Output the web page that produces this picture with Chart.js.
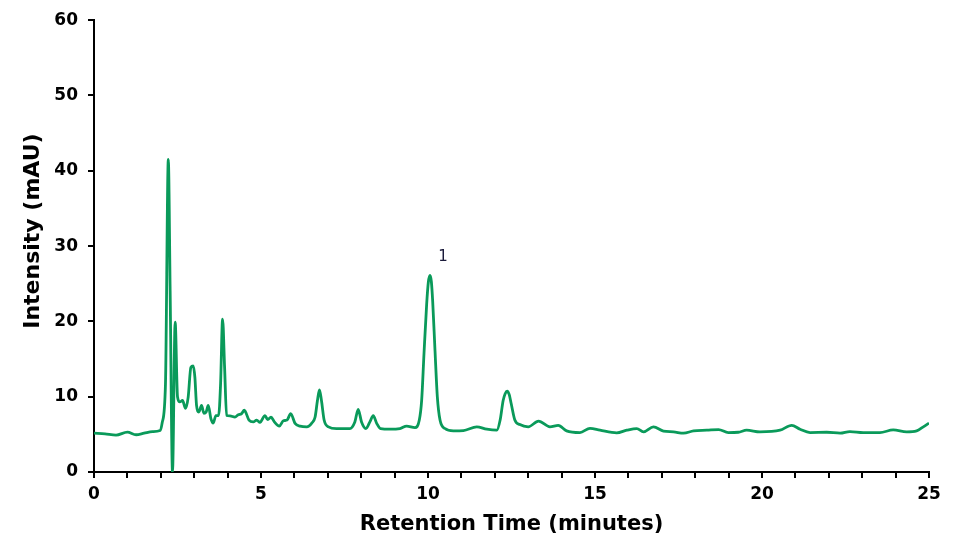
<!DOCTYPE html>
<html>
<head>
<meta charset="utf-8">
<script src="https://cdn.jsdelivr.net/npm/chart.js@4"></script>
<style>
  html, body { margin: 0; padding: 0; background: #fff; }
  #wrap { width: 960px; height: 559px; }
</style>
</head>
<body>
<div id="wrap"><canvas id="myChart" width="960" height="559"></canvas></div>
<script>
// retention time (minutes) and detector signal (mAU)
const time = [
  0, 0.33, 0.66, 1.0, 1.26, 1.5, 1.75, 1.98, 2.04, 2.14,
  2.225, 2.28, 2.35, 2.43, 2.5, 2.57, 2.65, 2.74, 2.82, 2.9,
  2.97, 3.02, 3.07, 3.14, 3.22, 3.29, 3.36, 3.42, 3.5, 3.57,
  3.65, 3.73, 3.79, 3.85, 3.91, 3.97, 4.07, 4.22, 4.32, 4.42,
  4.5, 4.64, 4.77, 4.87, 4.97, 5.12, 5.2, 5.3, 5.4, 5.55,
  5.67, 5.78, 5.89, 6.02, 6.17, 6.37, 6.52, 6.62, 6.69, 6.75,
  6.81, 6.89, 7.02, 7.26, 7.66, 7.81, 7.91, 8.01, 8.14, 8.26,
  8.36, 8.46, 8.58, 8.86, 9.16, 9.36, 9.61, 9.74, 9.81, 9.88,
  9.96, 10.01, 10.06, 10.10, 10.14, 10.21, 10.28, 10.36, 10.51, 10.76,
  11.06, 11.46, 11.76, 12.06, 12.16, 12.25, 12.31, 12.37, 12.43, 12.49,
  12.6, 12.75, 13.0, 13.31, 13.65, 13.9, 14.15, 14.55, 14.85, 15.15,
  15.65, 15.95, 16.25, 16.45, 16.75, 17.05, 17.35, 17.65, 17.95, 18.35,
  18.7, 18.99, 19.29, 19.54, 19.94, 20.54, 20.89, 21.14, 21.44, 21.94,
  22.34, 22.63, 23.03, 23.53, 23.93, 24.33, 24.63, 24.83, 25.0
];
const intensity = [
  5.15, 5.05, 4.9, 5.3, 4.95, 5.15, 5.35, 5.5, 6.5, 11.7,
  41.5, 24, 0, 19.9, 10.0, 9.3, 9.5, 8.45, 9.95, 13.9,
  14.1, 12.6, 8.85, 7.97, 8.85, 7.8, 8.0, 8.85, 7.1, 6.5,
  7.5, 7.5, 11.7, 20.3, 13.9, 7.5, 7.45, 7.3, 7.6, 7.75,
  8.2, 6.9, 6.65, 6.9, 6.6, 7.5, 6.95, 7.3, 6.65, 6.1,
  6.8, 6.9, 7.75, 6.45, 6.1, 6.0, 6.5, 7.3, 9.5, 10.9,
  9.5, 6.9, 6.0, 5.77, 5.77, 6.65, 8.3, 6.65, 5.77, 6.65,
  7.5, 6.5, 5.77, 5.7, 5.77, 6.1, 5.9, 6.9, 9.5, 15.7,
  22.3, 25.2, 26.1, 25.3, 22.7, 16.1, 9.95, 6.9, 5.77, 5.46,
  5.5, 6.0, 5.68, 5.55, 6.9, 9.5, 10.4, 10.75, 10.3, 9.1,
  6.9, 6.3, 6.0, 6.75, 6.0, 6.2, 5.46, 5.24, 5.8, 5.55,
  5.2, 5.55, 5.77, 5.33, 6.0, 5.42, 5.33, 5.15, 5.46, 5.55,
  5.64, 5.24, 5.28, 5.55, 5.33, 5.55, 6.2, 5.68, 5.24, 5.28,
  5.15, 5.37, 5.24, 5.24, 5.59, 5.33, 5.46, 6.0, 6.5
];
// peak label
const peakLabels = ['1'];
const peakLabelX = [10.45];
const peakLabelY = [28.6];

const yTitle = 'Intensity (mAU)';

const points = time.map((t, i) => ({ x: t, y: intensity[i] }));

// writes the peak numbers using the chart scales, and the y title
const textPlugin = {
  id: 'extraText',
  afterDraw(chart) {
    const { ctx, scales, chartArea } = chart;
    ctx.save();
    ctx.font = '15px "DejaVu Sans"';
    ctx.fillStyle = '#1a1a3a';
    ctx.textAlign = 'center';
    ctx.textBaseline = 'middle';
    peakLabels.forEach((txt, i) => {
      ctx.fillText(txt, scales.x.getPixelForValue(peakLabelX[i]), scales.y.getPixelForValue(peakLabelY[i]));
    });
    // y title sits a bit above the middle of the axis in the original
    ctx.font = 'bold 22px "DejaVu Sans"';
    ctx.fillStyle = '#000';
    ctx.translate(33, (chartArea.top + chartArea.bottom) / 2 - 15);
    ctx.rotate(-Math.PI / 2);
    ctx.fillText(yTitle, 0, 0);
    ctx.restore();
  }
};

const axisFont = { family: 'DejaVu Sans', weight: 'bold', size: 17 };
const titleFont = { family: 'DejaVu Sans', weight: 'bold', size: 21 };

const ctx = document.getElementById('myChart').getContext('2d');
const myChart = new Chart(ctx, {
  type: 'line',
  data: {
    datasets: [{
      label: 'Signal',
      data: points,
      borderColor: '#0a9a5a',
      borderWidth: 2.8,
      pointRadius: 0,
      fill: false,
      cubicInterpolationMode: 'monotone'
    }]
  },
  options: {
    responsive: false,
    animation: false,
    layout: { padding: { top: 18, right: 31, bottom: 0, left: 0 } },
    plugins: { legend: { display: false }, tooltip: { enabled: false } },
    scales: {
      x: {
        type: 'linear',
        min: 0,
        max: 25,
        afterFit(scale) { scale.height = 87; },
        border: { color: '#000', width: 2 },
        grid: { drawOnChartArea: false, color: '#000', lineWidth: 2, tickLength: 6 },
        ticks: {
          stepSize: 1,
          autoSkip: false,
          maxRotation: 0,
          padding: 6,
          color: '#000',
          font: axisFont,
          callback: v => (v % 5 === 0 ? v : '')
        },
        title: {
          display: true,
          text: 'Retention Time (minutes)',
          color: '#000',
          font: titleFont,
          padding: { top: 0, bottom: 22 }
        }
      },
      y: {
        min: 0,
        max: 60,
        afterFit(scale) { scale.width = 94; },
        border: { color: '#000', width: 2 },
        grid: { drawOnChartArea: false, color: '#000', lineWidth: 2, tickLength: 6 },
        ticks: { stepSize: 10, padding: 10, color: '#000', font: axisFont }
      }
    }
  },
  plugins: [textPlugin]
});
</script>
</body>
</html>
